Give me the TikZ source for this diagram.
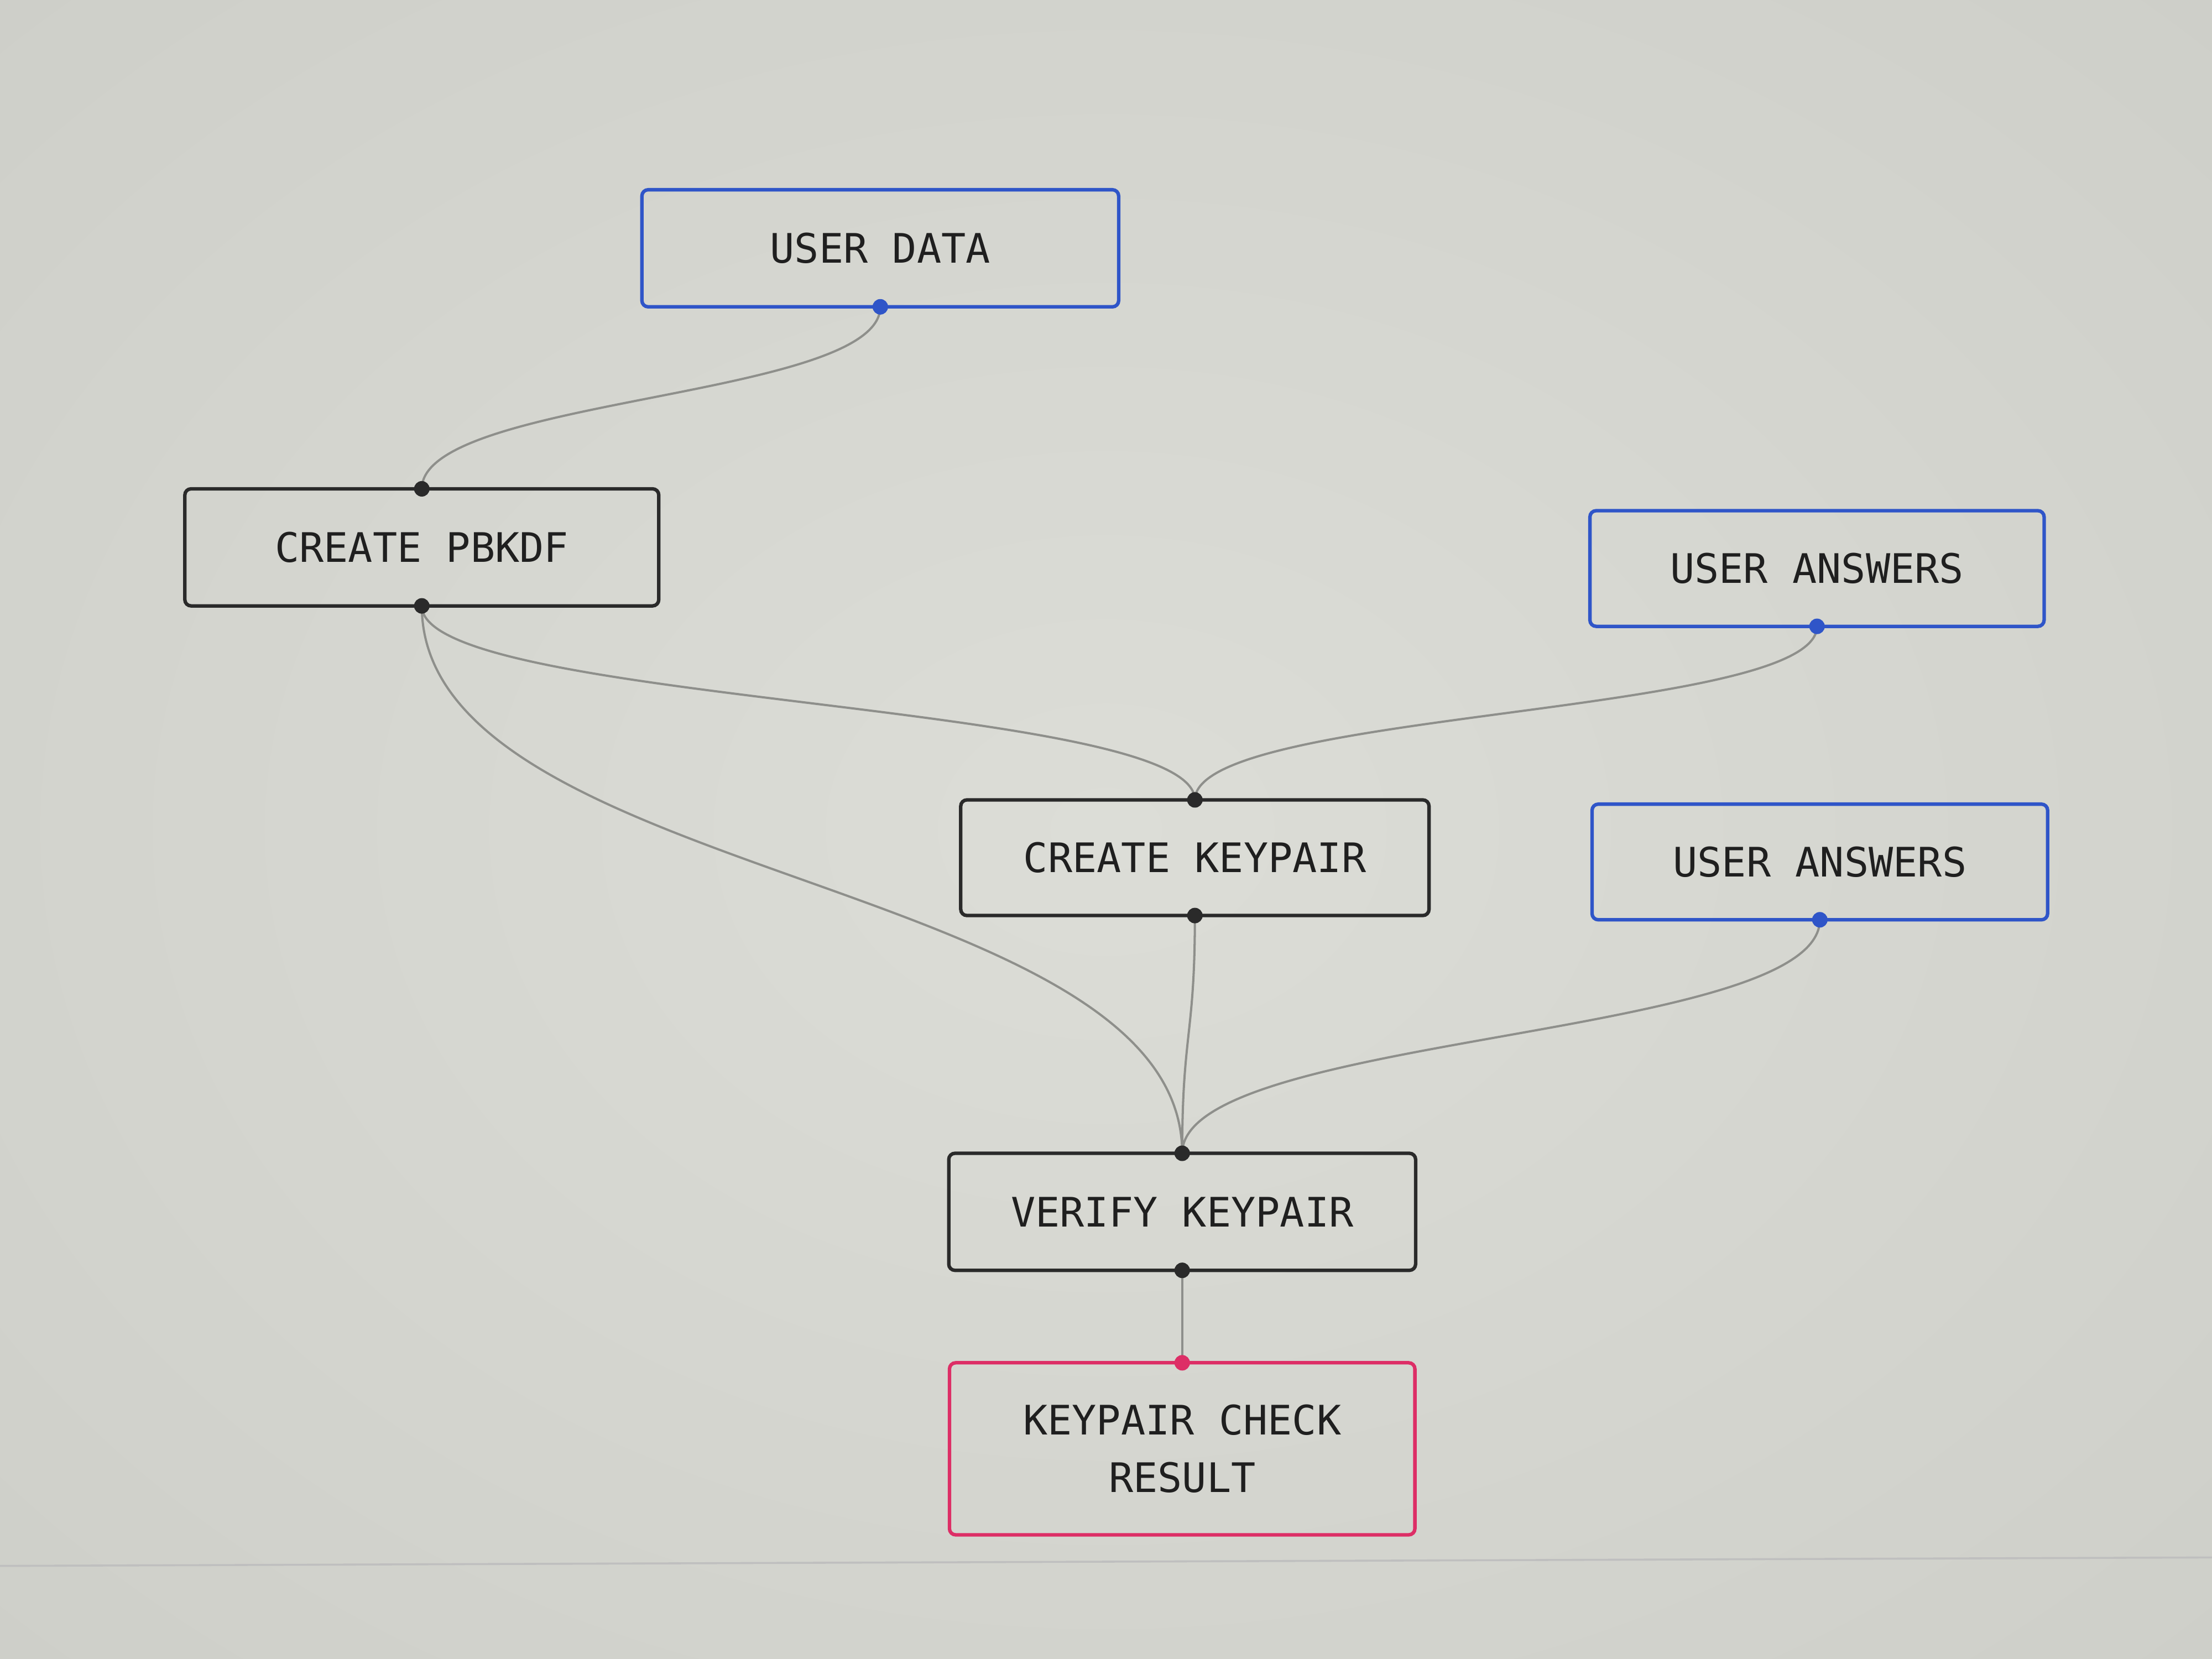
\documentclass[tikz,border=0pt]{standalone}
\usepackage{fontspec}
\newfontfamily\boxfont{DejaVu Sans Mono}
\definecolor{inblue}{HTML}{2F55C8}
\definecolor{outpink}{HTML}{DD2E66}
\definecolor{stepgray}{HTML}{2A2A2A}
\definecolor{linkgray}{HTML}{8E8F8B}
\definecolor{screenmid}{HTML}{DCDDD7}
\definecolor{screenedge}{HTML}{AEAFA9}
\pgfdeclareradialshading{screenglow}{\pgfpoint{0bp}{0bp}}{color(0bp)=(screenmid); color(35bp)=(screenmid!70!screenedge); color(71bp)=(screenedge)}

\begin{document}
\begin{tikzpicture}[
        x=0.02cm, y=-0.02cm,
        flowbox/.style={
            rectangle,
            rounded corners=2.5pt,
            line width=1.4pt,
            outer sep=0pt,
            minimum height=1.66cm,
            text=black!88,
            align=center,
            font=\boxfont\fontsize{16.4}{23.3}\selectfont},
        inbox/.style={flowbox, draw=inblue},
        stepbox/.style={flowbox, draw=stepgray},
        outbox/.style={flowbox, draw=outpink},
        link/.style={draw=linkgray, line width=0.9pt}
        ]
        \useasboundingbox (0,0) rectangle (1568,1176);
        \shade[shading=screenglow] (0,0) rectangle (1568,1176);
        \draw[black!25, line width=0.8pt] (0,1110) -- (1568,1104);

        \node[inbox, minimum width=6.76cm] (udata) at (624,176) {USER DATA};
        \node[stepbox, minimum width=6.72cm] (pbkdf) at (299,388) {CREATE PBKDF};
        \node[inbox, minimum width=6.44cm, minimum height=1.64cm] (ansA) at (1288,403) {USER ANSWERS};
        \node[stepbox, minimum width=6.64cm, minimum height=1.64cm] (mkkey) at (847,608) {CREATE KEYPAIR};
        \node[inbox, minimum width=6.46cm, minimum height=1.64cm] (ansB) at (1290,611) {USER ANSWERS};
        \node[stepbox, minimum width=6.62cm] (verify) at (838,859) {VERIFY KEYPAIR};
        \node[outbox, minimum width=6.6cm, minimum height=2.44cm] (result) at (838,1027) {KEYPAIR CHECK\\RESULT};

        \foreach \i/\j/\c in {% from node/to node/control length
            udata/pbkdf/65,
            pbkdf/mkkey/70,
            ansA/mkkey/64,
            pbkdf/verify/196,
            mkkey/verify/86,
            ansB/verify/85,
            verify/result/30}
            \draw[link] (\i.south) .. controls +(0,\c) and +(0,-\c) .. (\j.north);

        % ports sit on the box borders
        \foreach \p/\col in {udata.south/inblue, ansA.south/inblue, ansB.south/inblue,
            pbkdf.north/stepgray, pbkdf.south/stepgray, mkkey.north/stepgray, mkkey.south/stepgray,
            verify.north/stepgray, verify.south/stepgray, result.north/outpink}
            \fill[\col] (\p) circle (5.5);
        \end{tikzpicture}
\end{document}
